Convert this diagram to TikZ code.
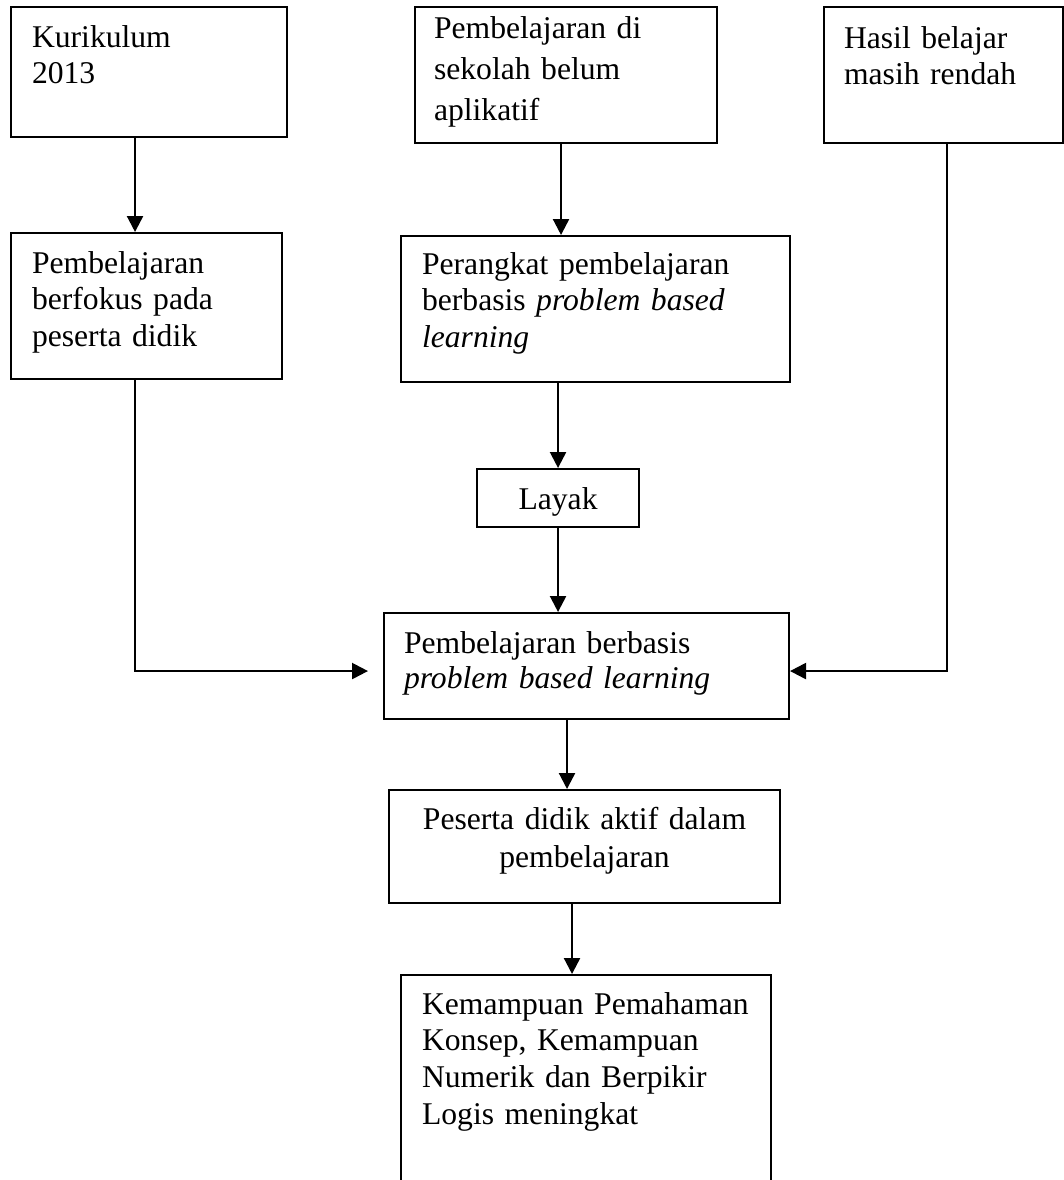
\documentclass[tikz,border=0pt]{standalone}
\usepackage{fontspec}
\setmainfont{Liberation Serif}
\usetikzlibrary{arrows.meta}

\begin{document}
\begin{tikzpicture}[x=0.02cm, y=-0.02cm,
    blk/.style={rectangle, draw=black, line width=1.2pt, anchor=north west,
                align=left, inner ysep=0pt, inner xsep=0.42cm,
                font=\fontsize{18}{21}\selectfont},
    mid/.style={blk, align=center, inner xsep=0pt},
    arr/.style={draw=black, line width=1.3pt,
                -{Triangle[length=0.32cm, width=0.32cm]}}]
  % page in pixels of the reference (1 px = 0.02 cm)
  \useasboundingbox (0,0) rectangle (1064,1180);
  % --- the three starting boxes ---------------------------------------------
  \node[blk, text width=4.68cm, text height=0.8cm, text depth=1.8cm]
    (kur) at (10,6) {Kurikulum\\2013};
  \node[blk, inner xsep=0.38cm, text width=5.28cm, text height=0.62cm,
        text depth=2.1cm, font=\fontsize{18}{23.6}\selectfont]
    (sek) at (414,6) {Pembelajaran di\\sekolah belum\\aplikatif};
  \node[blk, inner xsep=0.4cm, text width=3.98cm, text height=0.82cm,
        text depth=1.9cm]
    (has) at (823,6) {Hasil belajar\\masih rendah};
  % --- second row -------------------------------------------------------------
  \node[blk, text width=4.58cm, text height=0.8cm, text depth=2.12cm]
    (fok) at (10,232) {Pembelajaran\\berfokus pada\\peserta didik};
  \node[blk, text width=6.94cm, text height=0.76cm, text depth=2.16cm]
    (prk) at (400,235)
    {Perangkat pembelajaran\\berbasis \textit{problem based}\\\textit{learning}};
  \node[mid, text width=3.24cm, text height=0.8cm, text depth=0.36cm]
    (lyk) at (476,468) {Layak};
  % --- the main column --------------------------------------------------------
  \node[blk, inner xsep=0.4cm, text width=7.3cm, text height=0.8cm,
        text depth=1.32cm, font=\fontsize{18}{20}\selectfont]
    (pbl) at (383,612) {Pembelajaran berbasis\\\textit{problem based learning}};
  \node[mid, text width=7.82cm, text height=0.78cm, text depth=1.48cm,
        font=\fontsize{18}{22}\selectfont]
    (akt) at (388,789) {Peserta didik aktif dalam\\pembelajaran};
  \node[blk, text width=6.56cm, text height=0.78cm, text depth=3.8cm]
    (kem) at (400,974)
    {Kemampuan Pemahaman\\Konsep, Kemampuan\\Numerik dan Berpikir\\Logis meningkat};
  % --- connectors -------------------------------------------------------------
  \draw[arr] ([xshift=-0.28cm]kur.south) -- ([xshift=-0.28cm]kur.south |- fok.north);
  \draw[arr] ([xshift=-0.1cm]sek.south) -- ([xshift=-0.1cm]sek.south |- prk.north);
  \draw[arr] (prk.south -| lyk.north) -- (lyk.north);
  \draw[arr] (lyk.south) -- (lyk.south |- pbl.north);
  \draw[arr, shorten >=0.3cm] ([xshift=-0.23cm]fok.south) |- ([yshift=-0.1cm]pbl.west);
  \draw[arr] ([xshift=0.07cm]has.south) |- ([yshift=-0.1cm]pbl.east);
  \draw[arr] ([xshift=-0.39cm]pbl.south) -- ([xshift=-0.39cm]pbl.south |- akt.north);
  \draw[arr] ([xshift=-0.25cm]akt.south) -- ([xshift=-0.25cm]akt.south |- kem.north);
\end{tikzpicture}
\end{document}
